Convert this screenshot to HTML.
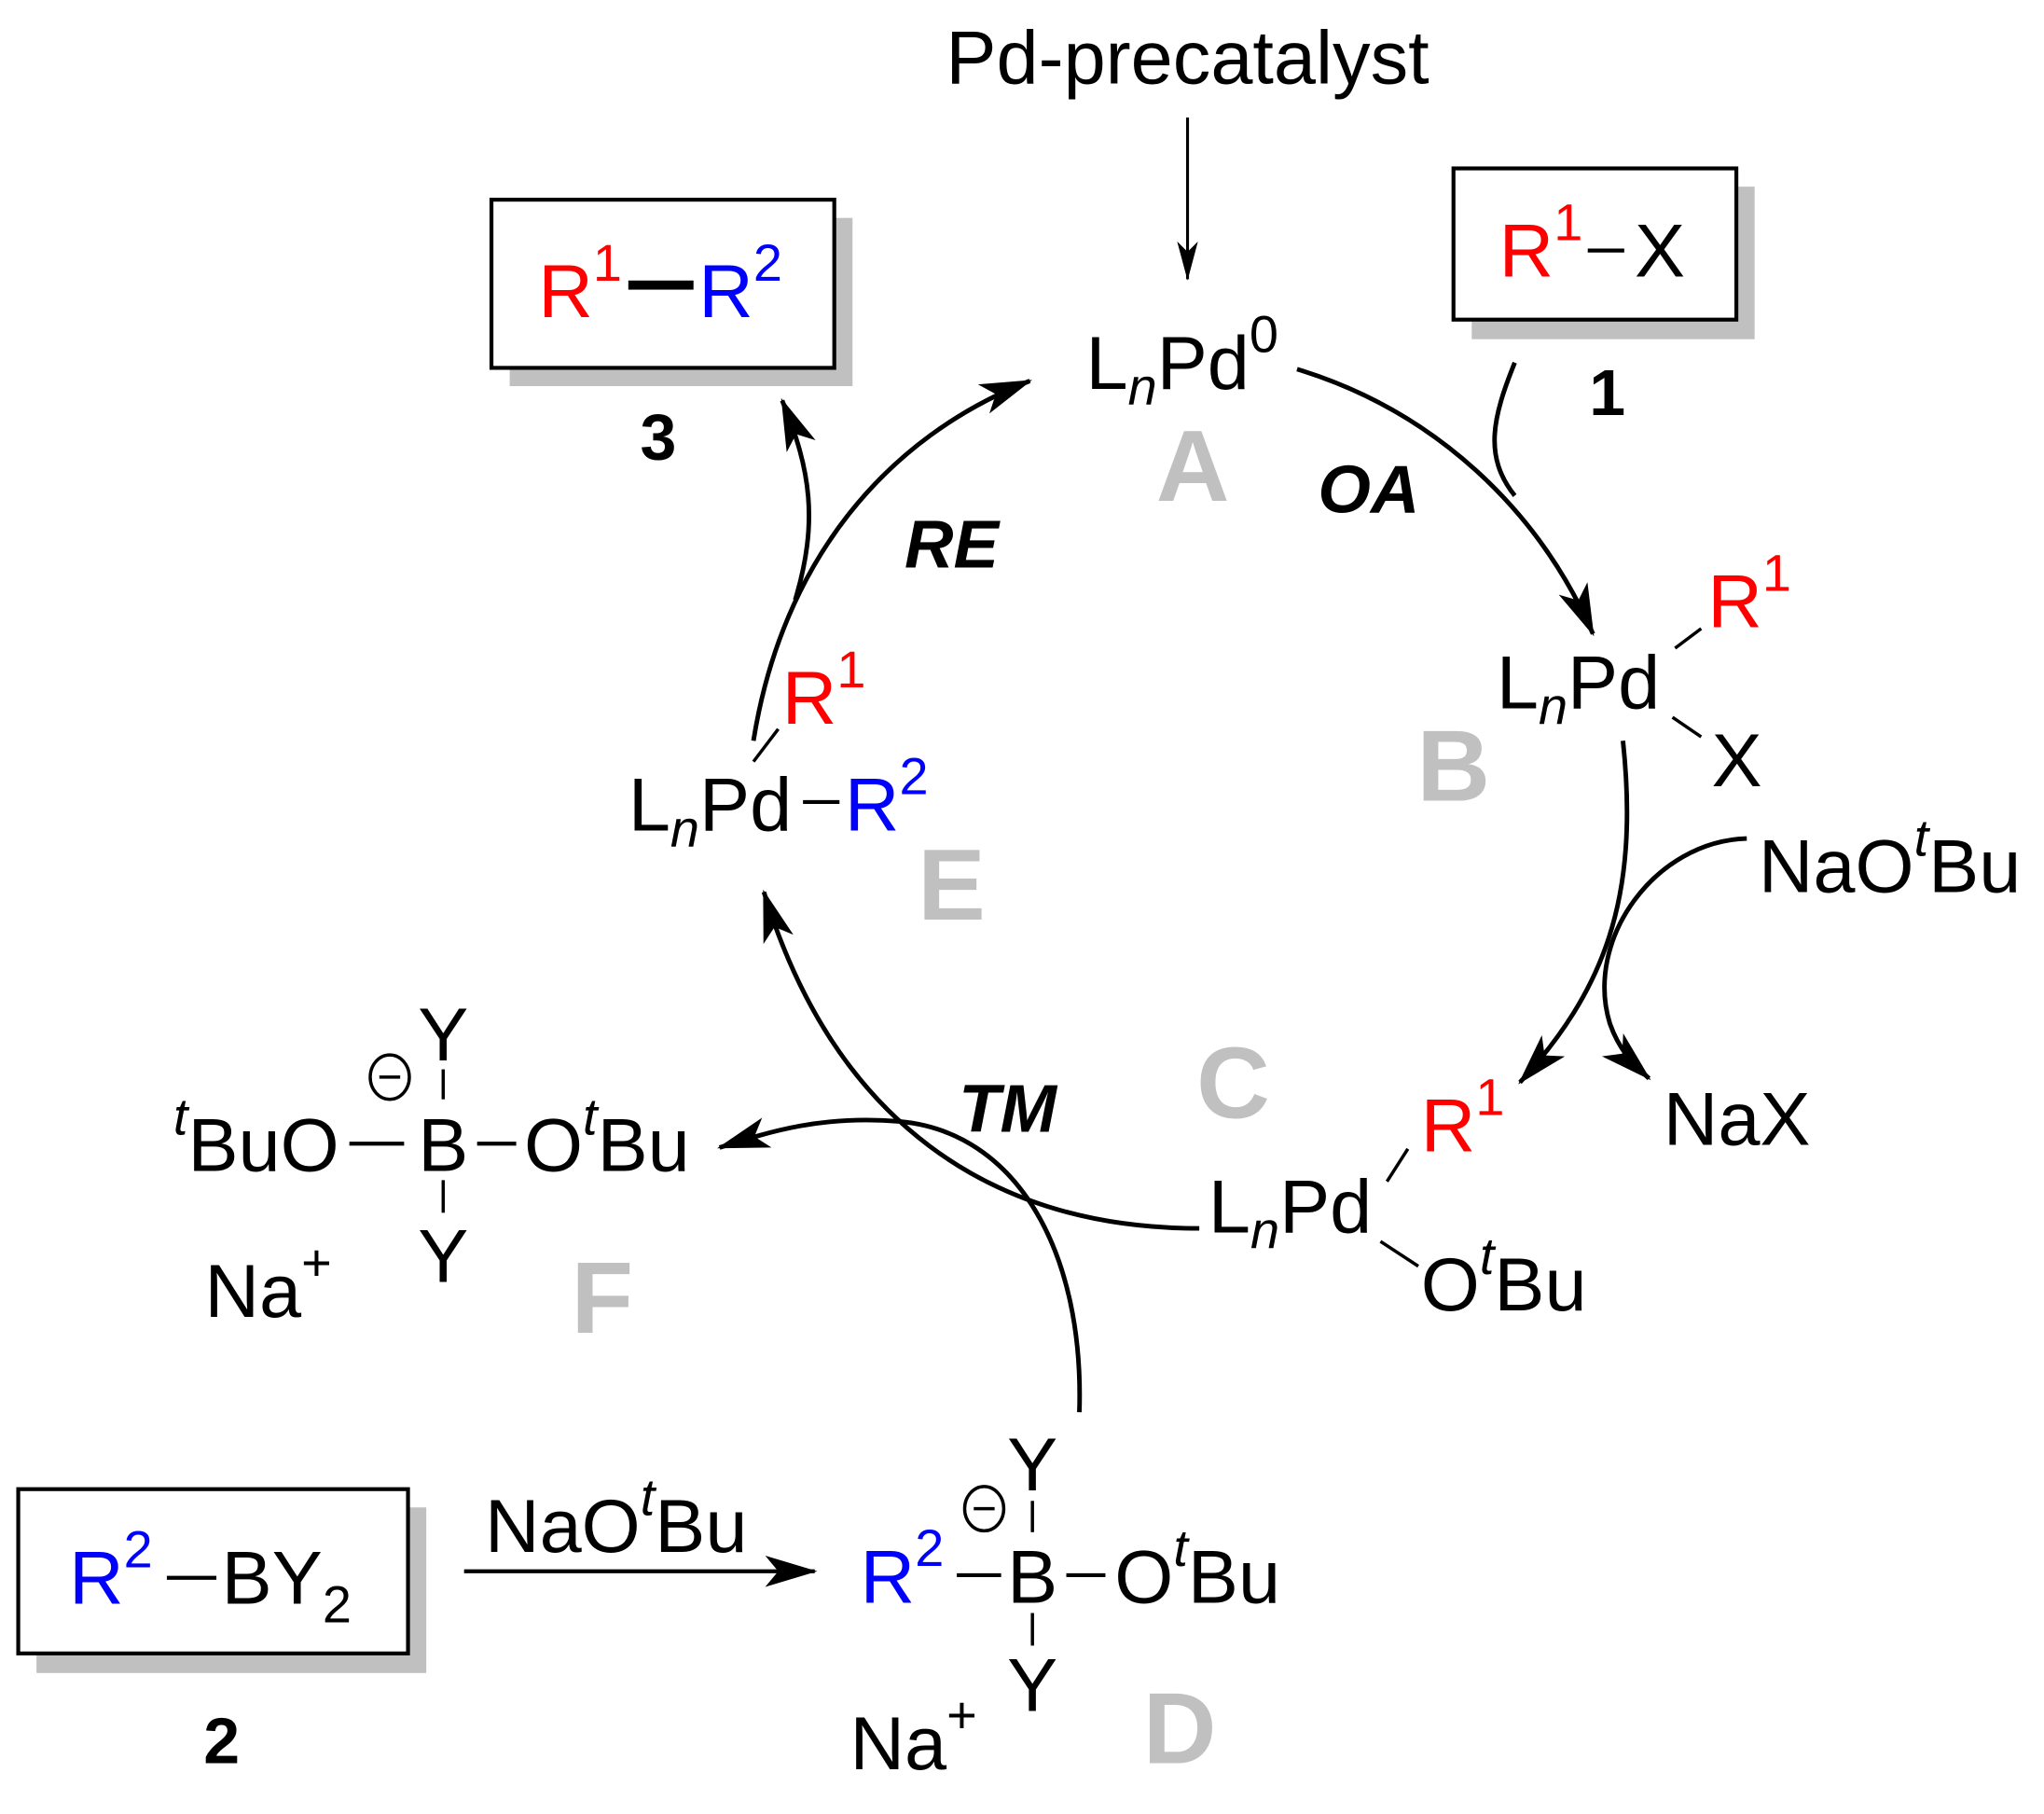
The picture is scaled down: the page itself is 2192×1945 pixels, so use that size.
<!DOCTYPE html>
<html><head><meta charset="utf-8"><style>html,body{margin:0;padding:0;background:#fff}svg{display:block}</style></head>
<body>
<svg width="2192" height="1945" viewBox="0 0 1568 1391" xmlns="http://www.w3.org/2000/svg" font-family="Liberation Sans, Arial, sans-serif">
<defs>
<marker id="ah" markerUnits="userSpaceOnUse" viewBox="0 0 40 24" refX="38" refY="12" markerWidth="40" markerHeight="24" orient="auto">
<path d="M0,0 L40,12 L0,24 L10,12 Z" fill="#000"/></marker>
<marker id="as" markerUnits="userSpaceOnUse" viewBox="0 0 30 16" refX="29" refY="8" markerWidth="30" markerHeight="16" orient="auto">
<path d="M0,0 L30,8 L0,16 L8,8 Z" fill="#000"/></marker>
</defs>
<g font-size="58" fill="#000">
<text x="911" y="64" text-anchor="middle">Pd-precatalyst</text>
<line x1="911" y1="90" x2="911" y2="214" stroke="#000" stroke-width="2.2" marker-end="url(#as)"/>
<text x="833" y="298">L<tspan font-style="italic" font-size="40" dy="12">n</tspan><tspan dy="-12">Pd</tspan><tspan font-size="40" dy="-28">0</tspan></text>
<rect x="391" y="167" width="263" height="129" fill="#c0c0c0"/>
<rect x="377" y="153" width="263" height="129" fill="#fff" stroke="#000" stroke-width="3"/>
<text x="413" y="243"><tspan fill="#f00">R</tspan><tspan fill="#f00" font-size="40" dy="-28">1</tspan></text>
<rect x="482" y="215" width="50" height="7" fill="#000"/>
<text x="536" y="243"><tspan fill="#00f">R</tspan><tspan fill="#00f" font-size="40" dy="-28">2</tspan></text>
<text x="505" y="352" text-anchor="middle" font-weight="bold" font-size="50">3</text>
<rect x="1129" y="143" width="217" height="117" fill="#c0c0c0"/>
<rect x="1115" y="129" width="217" height="116" fill="#fff" stroke="#000" stroke-width="3"/>
<text x="1150" y="212"><tspan fill="#f00">R</tspan><tspan fill="#f00" font-size="40" dy="-28">1</tspan></text>
<line x1="1218" y1="192" x2="1246" y2="192" stroke="#000" stroke-width="3"/>
<text x="1254" y="212">X</text>
<text x="1233" y="318" text-anchor="middle" font-weight="bold" font-size="50">1</text>
<g fill="#c0c0c0" font-weight="bold" font-size="78" text-anchor="middle">
<text x="915" y="384">A</text><text x="1115" y="614">B</text><text x="946" y="857">C</text>
<text x="905" y="1352">D</text><text x="730" y="705">E</text><text x="462" y="1022">F</text></g>
<g font-weight="bold" font-style="italic" font-size="52" text-anchor="middle">
<text x="1050" y="393">OA</text><text x="730" y="435">RE</text><text x="773" y="868">TM</text></g>
<text x="1148" y="543">L<tspan font-style="italic" font-size="40" dy="12">n</tspan><tspan dy="-12">Pd</tspan></text>
<text x="1310" y="481"><tspan fill="#f00">R</tspan><tspan fill="#f00" font-size="40" dy="-28">1</tspan></text>
<text x="1313" y="603">X</text>
<line x1="1285" y1="497" x2="1305" y2="482" stroke="#000" stroke-width="2.5"/>
<line x1="1283" y1="550" x2="1305" y2="565" stroke="#000" stroke-width="2.5"/>
<text x="1349" y="684">NaO<tspan font-style="italic" font-size="40" dy="-28">t</tspan><tspan dy="28">Bu</tspan></text>
<text x="1276" y="878">NaX</text>
<text x="927" y="945">L<tspan font-style="italic" font-size="40" dy="12">n</tspan><tspan dy="-12">Pd</tspan></text>
<text x="1090" y="883"><tspan fill="#f00">R</tspan><tspan fill="#f00" font-size="40" dy="-28">1</tspan></text>
<text x="1090" y="1005">O<tspan font-style="italic" font-size="40" dy="-28">t</tspan><tspan dy="28">Bu</tspan></text>
<line x1="1064" y1="906" x2="1080" y2="881" stroke="#000" stroke-width="2.5"/>
<line x1="1059" y1="952" x2="1088" y2="971" stroke="#000" stroke-width="2.5"/>
<text x="482" y="637">L<tspan font-style="italic" font-size="40" dy="12">n</tspan><tspan dy="-12">Pd</tspan></text>
<line x1="616" y1="615" x2="644" y2="615" stroke="#000" stroke-width="3"/>
<text x="648" y="637"><tspan fill="#00f">R</tspan><tspan fill="#00f" font-size="40" dy="-28">2</tspan></text>
<text x="600" y="555"><tspan fill="#f00">R</tspan><tspan fill="#f00" font-size="40" dy="-28">1</tspan></text>
<line x1="578" y1="584" x2="597" y2="559" stroke="#000" stroke-width="2.5"/>
<text x="133" y="898"><tspan font-style="italic" font-size="40" dy="-28">t</tspan><tspan dy="28">BuO</tspan></text>
<line x1="268" y1="877" x2="310" y2="877" stroke="#000" stroke-width="3"/>
<text x="340" y="898" text-anchor="middle">B</text>
<line x1="366" y1="877" x2="396" y2="877" stroke="#000" stroke-width="3"/>
<text x="402" y="898">O<tspan font-style="italic" font-size="40" dy="-28">t</tspan><tspan dy="28">Bu</tspan></text>
<text x="340" y="813" text-anchor="middle">Y</text>
<line x1="340" y1="820" x2="340" y2="843" stroke="#000" stroke-width="2.5"/>
<line x1="340" y1="905" x2="340" y2="930" stroke="#000" stroke-width="2.5"/>
<text x="340" y="983" text-anchor="middle">Y</text>
<ellipse cx="299" cy="826" rx="15" ry="17" fill="none" stroke="#000" stroke-width="2.5"/>
<line x1="291" y1="826" x2="307" y2="826" stroke="#000" stroke-width="2.5"/>
<text x="157" y="1010">Na<tspan font-size="40" dy="-28">+</tspan></text>
<rect x="28" y="1156" width="299" height="127" fill="#c0c0c0"/>
<rect x="14" y="1142" width="299" height="126" fill="#fff" stroke="#000" stroke-width="3"/>
<text x="53" y="1230"><tspan fill="#00f">R</tspan><tspan fill="#00f" font-size="40" dy="-28">2</tspan></text>
<line x1="128" y1="1210" x2="166" y2="1210" stroke="#000" stroke-width="3"/>
<text x="170" y="1230">BY<tspan font-size="40" dy="14">2</tspan></text>
<text x="170" y="1352" text-anchor="middle" font-weight="bold" font-size="50">2</text>
<line x1="356" y1="1205" x2="625" y2="1205" stroke="#000" stroke-width="3" marker-end="url(#ah)"/>
<text x="372" y="1190">NaO<tspan font-style="italic" font-size="40" dy="-28">t</tspan><tspan dy="28">Bu</tspan></text>
<text x="660" y="1229"><tspan fill="#00f">R</tspan><tspan fill="#00f" font-size="40" dy="-28">2</tspan></text>
<line x1="734" y1="1208" x2="768" y2="1208" stroke="#000" stroke-width="3"/>
<text x="792" y="1229" text-anchor="middle">B</text>
<line x1="818" y1="1208" x2="848" y2="1208" stroke="#000" stroke-width="3"/>
<text x="855" y="1229">O<tspan font-style="italic" font-size="40" dy="-28">t</tspan><tspan dy="28">Bu</tspan></text>
<text x="792" y="1143" text-anchor="middle">Y</text>
<line x1="792" y1="1151" x2="792" y2="1175" stroke="#000" stroke-width="2.5"/>
<line x1="792" y1="1237" x2="792" y2="1262" stroke="#000" stroke-width="2.5"/>
<text x="792" y="1312" text-anchor="middle">Y</text>
<ellipse cx="755" cy="1157" rx="15" ry="17" fill="none" stroke="#000" stroke-width="2.5"/>
<line x1="747" y1="1157" x2="763" y2="1157" stroke="#000" stroke-width="2.5"/>
<text x="652" y="1357">Na<tspan font-size="40" dy="-28">+</tspan></text>
</g>
<g fill="none" stroke="#000" stroke-width="3.5">
<path d="M995,283 C1100,315 1180,390 1222,486" marker-end="url(#ah)"/>
<path d="M1162,278 C1145,320 1138,350 1162,380"/>
<path d="M1245,568 C1258,690 1230,760 1166,830" marker-end="url(#ah)"/>
<path d="M1340,643 C1270,645 1215,720 1235,785 C1242,805 1252,815 1265,827" marker-end="url(#ah)"/>
<path d="M920,942 C760,942 640,860 586,684" marker-end="url(#ah)"/>
<path d="M828,1083 C832,960 780,868 690,860 C630,855 590,868 552,880" marker-end="url(#ah)"/>
<path d="M578,568 C600,430 680,335 790,292" marker-end="url(#ah)"/>
<path d="M610,460 C628,400 622,360 600,307" marker-end="url(#ah)"/>
</g>
</svg>
</body></html>
